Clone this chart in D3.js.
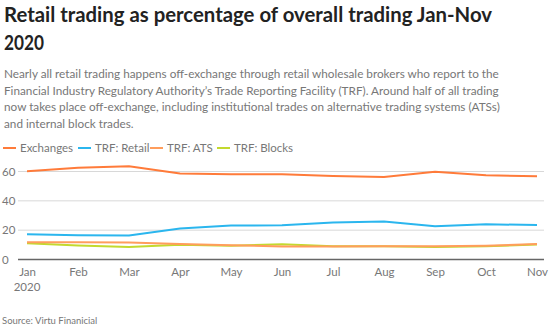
<!DOCTYPE html>
<html>
<head>
<meta charset="utf-8">
<script src="https://cdn.jsdelivr.net/npm/d3@7"></script>
<style>
  body { margin: 0; background: #fff; }
  svg { font-family: "Source Sans Pro", Lato, "Open Sans", sans-serif; }
</style>
</head>
<body>
<div id="chart"></div>
<script>
// data
const months = ['Jan', 'Feb', 'Mar', 'Apr', 'May', 'Jun', 'Jul', 'Aug', 'Sep', 'Oct', 'Nov'];
const exchanges = [60.2, 62.5, 63.5, 58.6, 58.2, 58.2, 57.0, 56.3, 59.8, 57.4, 56.8];
const trfRetail = [17.3, 16.6, 16.4, 21.2, 23.2, 23.3, 25.3, 25.9, 22.6, 24.0, 23.5];
const trfAts = [11.8, 11.8, 11.6, 10.5, 9.8, 8.8, 8.9, 9.0, 9.0, 9.4, 10.5];
const trfBlocks = [11.0, 9.6, 8.6, 10.0, 9.4, 10.4, 9.0, 9.0, 8.6, 9.0, 10.2];
const yTicks = [0, 20, 40, 60];

const seriesNames = ['Exchanges', 'TRF: Retail', 'TRF: ATS', 'TRF: Blocks'];
const seriesColors = ['#ff7b3a', '#2bb6ee', '#ff9d5c', '#c3d92e'];
const seriesValues = [exchanges, trfRetail, trfAts, trfBlocks];

const width = 554, height = 336;

const svg = d3.select('#chart').append('svg')
  .attr('width', width)
  .attr('height', height);

// title
const title = svg.append('text')
  .attr('x', 4)
  .attr('fill', '#222')
  .attr('font-size', 20)
  .attr('font-weight', 700);
title.append('tspan').attr('x', 4).attr('y', 22)
  .attr('textLength', 488)
  .attr('lengthAdjust', 'spacingAndGlyphs')
  .text('Retail trading as percentage of overall trading Jan-Nov');
title.append('tspan').attr('x', 4).attr('y', 50)
  .attr('textLength', 40)
  .attr('lengthAdjust', 'spacingAndGlyphs')
  .text('2020');

// subtitle
const subLines = [
  'Nearly all retail trading happens off-exchange through retail wholesale brokers who report to the',
  'Financial Industry Regulatory Authority\u2019s Trade Reporting Facility (TRF). Around half of all trading',
  'now takes place off-exchange, including institutional trades on alternative trading systems (ATSs)',
  'and internal block trades.'
];
svg.append('g').selectAll('text')
  .data(subLines)
  .enter().append('text')
  .attr('x', 4)
  .attr('y', (d, i) => 78 + i * 16.7)
  .attr('fill', '#777')
  .attr('font-size', 11.75)
  .text(d => d);

// legend
const legendX = [3, 78, 150, 217];
const legend = svg.append('g').selectAll('g')
  .data(seriesNames)
  .enter().append('g')
  .attr('transform', (d, i) => `translate(${legendX[i]},148)`);
legend.append('line')
  .attr('x1', 0).attr('x2', 13)
  .attr('stroke', (d, i) => seriesColors[i])
  .attr('stroke-width', 2);
legend.append('text')
  .attr('x', 17)
  .attr('dy', '0.35em')
  .attr('fill', '#777')
  .attr('font-size', 11.5)
  .text(d => d);

// scales
const x = d3.scalePoint()
  .domain(months)
  .range([27, 537]);

const y = d3.scaleLinear()
  .domain([0, 60])
  .range([259.5, 171.5]);

// gridlines
svg.append('g').selectAll('line')
  .data(yTicks.filter(d => d > 0))
  .enter().append('line')
  .attr('x1', 18).attr('x2', 544)
  .attr('y1', d => y(d)).attr('y2', d => y(d))
  .attr('stroke', '#d8d8d8')
  .attr('stroke-width', 1);

// y tick labels
svg.append('g').selectAll('text')
  .data(yTicks)
  .enter().append('text')
  .attr('x', 2)
  .attr('y', d => y(d))
  .attr('dy', '0.35em')
  .attr('fill', '#777')
  .attr('font-size', 11.5)
  .text(d => d);

// lines
const line = d3.line()
  .x((d, i) => x(months[i]))
  .y(d => y(d));

[3, 2, 1, 0].forEach(function (k) {
  svg.append('path')
    .datum(seriesValues[k])
    .attr('d', line)
    .attr('fill', 'none')
    .attr('stroke', seriesColors[k])
    .attr('stroke-width', 2);
});

// baseline x axis
const xAxis = svg.append('g')
  .attr('transform', `translate(0,${y(0)})`)
  .call(d3.axisBottom(x).tickSize(0).tickPadding(8));
xAxis.select('.domain').remove();
xAxis.selectAll('text')
  .attr('fill', '#777')
  .attr('font-size', 11.5)
  .attr('font-family', '"Source Sans Pro", Lato, "Open Sans", sans-serif');
xAxis.append('line')
  .attr('x1', 18).attr('x2', 544)
  .attr('stroke', '#666')
  .attr('stroke-width', 1.5);

svg.append('text')
  .attr('x', x('Jan'))
  .attr('y', 291)
  .attr('text-anchor', 'middle')
  .attr('fill', '#777')
  .attr('font-size', 11.5)
  .text('2020');

// source
svg.append('text')
  .attr('x', 2)
  .attr('y', 324)
  .attr('fill', '#777')
  .attr('font-size', 9.5)
  .text('Source: Virtu Finanicial');
</script>
</body>
</html>
